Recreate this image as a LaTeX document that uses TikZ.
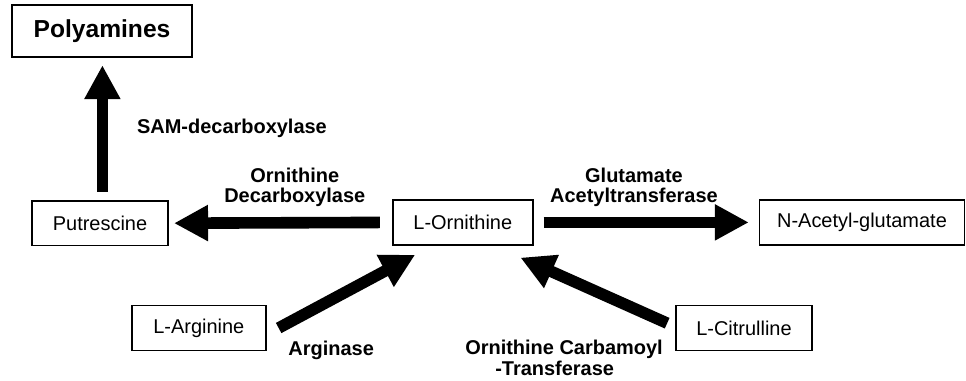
\documentclass[tikz,border=0pt]{standalone}
\usepackage{fontspec}
\setmainfont{Liberation Sans}
\usetikzlibrary{arrows.meta, positioning}
\tikzset{
  cpdnode/.style={draw=black,line width=1.2pt,minimum height=1.12cm,inner sep=2pt,font=\fontsize{14.2}{17}\selectfont},
  topnode/.style={cpdnode,minimum height=1.3cm,font=\fontsize{17.5}{21}\selectfont\bfseries},
  enzlabel/.style={align=center,inner sep=0pt,font=\fontsize{14.2}{14.6}\selectfont\bfseries},
  fatarrow/.style={-{Triangle[length=0.85cm,width=0.85cm]},line width=0.29cm},
}

\begin{document}
\begin{tikzpicture}
  \useasboundingbox (0,0) rectangle (24.15,-9.525);
  \node[topnode,minimum width=4.50cm] (nPoly) at (2.55,-0.78) {Polyamines};
  \node[cpdnode,minimum width=3.40cm] (nPut) at (2.50,-5.58) {Putrescine};
  \node[cpdnode,minimum width=3.50cm] (nOrn) at (11.57,-5.56) {L-Ornithine};
  \node[cpdnode,minimum width=5.12cm] (nNag) at (21.55,-5.56) {N-Acetyl-glutamate};
  \node[cpdnode,minimum width=3.35cm] (nArg) at (4.97,-8.20) {L-Arginine};
  \node[cpdnode,minimum width=3.40cm] (nCit) at (18.60,-8.20) {L-Citrulline};
  % enzymes
  \node[enzlabel] (lSam) at (5.80,-3.20) {SAM-decarboxylase};
  \node[enzlabel] (lOdc) at (7.37,-4.68) {Ornithine\\Decarboxylase};
  \node[enzlabel] (lGat) at (15.85,-4.68) {Glutamate\\Acetyltransferase};
  \node[enzlabel] (lArg) at (8.28,-8.75) {Arginase};
  \node[enzlabel,align=left] (lOtc) at (14.10,-8.95) {Ornithine Carbamoyl\\\hspace*{0.75cm}-Transferase};
  % reactions
  \draw[fatarrow,shorten <=0.2cm,shorten >=0.18cm] ([xshift=0.06cm]nPut.north) -- ([xshift=0.06cm]nPut.north |- nPoly.south);
  \draw[fatarrow,shorten <=0.3cm,shorten >=0.13cm] (nOrn.west) -- (nPut.east);
  \draw[fatarrow,shorten <=0.25cm,shorten >=0.25cm] (nOrn.east) -- (nNag.west);
  \draw[fatarrow] ([xshift=0.3cm]nArg.east) -- ([xshift=0.58cm,yshift=-0.23cm]nOrn.south west);
  \draw[fatarrow] ([xshift=-0.2cm,yshift=0.12cm]nCit.west) -- ([xshift=-0.33cm,yshift=-0.3cm]nOrn.south east);
\end{tikzpicture}
\end{document}
